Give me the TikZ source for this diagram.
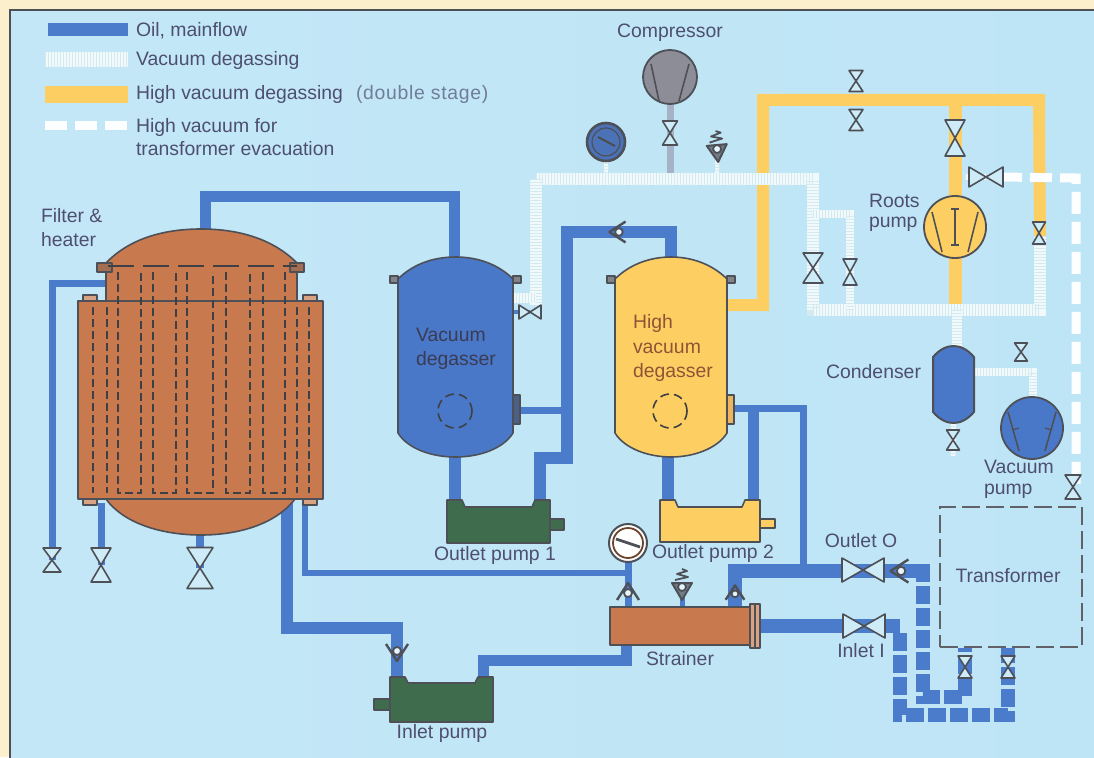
\documentclass[tikz,border=0pt]{standalone}
\usepackage{fontspec}
\setmainfont{Liberation Sans}
\definecolor{oilc}{HTML}{4B7BCB}
\definecolor{yelc}{HTML}{FDCF63}
\definecolor{vacb}{HTML}{F1F9FA}
\definecolor{vacs}{HTML}{D3EAF0}
\definecolor{bgc}{HTML}{BEE5F6}
\definecolor{creamc}{HTML}{FCEFCB}
\definecolor{linec}{HTML}{4E5058}
\definecolor{txtc}{HTML}{4E4F70}
\definecolor{filc}{HTML}{C87A4E}
\definecolor{grnc}{HTML}{3F6C4C}
\definecolor{blufill}{HTML}{4A78C8}
\definecolor{compc}{HTML}{8C8D96}
\definecolor{compp}{HTML}{A6B3C6}
\pgfdeclarelayer{back}\pgfdeclarelayer{pipes}
\pgfsetlayers{back,pipes,main}
\tikzset{
  oil/.style={draw=oilc,line width=#1},
  oildash/.style={draw=oilc,line width=#1,dash pattern=on 18pt off 4pt},
  yel/.style={draw=yelc,line width=#1},
  vacp/.style={draw=vacb,line width=#1,postaction={draw=vacs,line width=#1,dash pattern=on 1pt off 2pt}},
  hvp/.style={draw=white!95!bgc,line width=#1,dash pattern=on 22pt off 8pt},
  eq/.style={draw=linec,line width=1.6pt,line join=round},
  ghost/.style={inner sep=0pt,outer sep=0pt},
  lab/.style={text=txtc,font=\fontsize{19.4}{23}\selectfont,inner sep=0pt,outer sep=0pt,text height=15.5pt,text depth=2.5pt},
  labm/.style={text=txtc,font=\fontsize{19.4}{#1}\selectfont,inner sep=0pt,outer sep=0pt,align=left},
  dashin/.style={draw=linec!80!black,line width=1.6pt,dash pattern=on 8pt off 4pt},
  chkdot/.style={circle,draw=linec,line width=1.8pt,fill=white!60!bgc,minimum size=8pt,inner sep=0pt},
}
\newcommand\valveV[5]{\node[ghost,minimum width=#4pt,minimum height=#5pt] (#1) at (#2,#3) {};
  \draw[eq,fill=bgc!75!white] (#1.north west) -- (#1.south east) -- (#1.south west) -- (#1.north east) -- cycle;}
\newcommand\valveH[5]{\node[ghost,minimum width=#4pt,minimum height=#5pt] (#1) at (#2,#3) {};
  \draw[eq,fill=bgc!75!white] (#1.north west) -- (#1.south east) -- (#1.north east) -- (#1.south west) -- cycle;}
\newcommand\chk[5]{\begin{scope}[shift={(#2,#3)},rotate=#4,scale=#5]
  \draw[eq,line width=2.4pt] (-11,8) -- (0,-9) -- (11,8);
  \node[chkdot,minimum size=#5*8pt] (#1) at (0,1) {};
  \end{scope}}
\newcommand\springchk[4]{\begin{scope}[shift={(#2,#3)},rotate=#4]
  \draw[eq,line width=2pt,fill=linec!70!bgc] (-10,-3) -- (0,14) -- (10,-3) -- cycle;
  \draw[eq,line width=1.8pt] (-7,-6) -- (6,-9) -- (-5,-12) -- (5,-15) -- (0,-17);
  \node[chkdot,minimum size=8pt] (#1) at (0,1) {};
  \end{scope}}
\newcommand\pumpbody[7]{\node[ghost,minimum width={(#4-#2)*1pt},minimum height={(#5-#3)*1pt}] (#1) at ({(#2+#4)/2},{(#3+#5)/2}) {};
  \draw[eq,fill=#7] (#2,#3) -- ({#2+15},#3) -- ({#2+18},{#3+#6}) -- ({#4-18},{#3+#6}) -- ({#4-15},#3) -- (#4,#3) -- (#4,#5) -- (#2,#5) -- cycle;}
\newcommand\vessel[7]{\node[ghost,minimum width={(#3-#2)*1pt},minimum height=200pt] (#1) at ({(#2+#3)/2},357) {};
  \draw[eq,fill=#5] ({#2-8},276) rectangle (#2,283);
  \draw[eq,fill=#5] (#3,276) rectangle ({#3+8},283);
  \draw[eq,fill=#6] (#3,395) rectangle ({#3+7},424);
  \draw[eq,fill=#4] (#2,279) .. controls ({#2+14},265) and ({#2+34},257) .. ({(#2+#3)/2},257) .. controls ({#3-34},257) and ({#3-14},265) .. (#3,279) -- (#3,433)
    .. controls ({#3-10},449) and ({#3-34},457) .. ({(#2+#3)/2},457) .. controls ({#2+34},457) and ({#2+10},449) .. (#2,433) -- cycle;
  \draw[dashin,dash pattern=on 9pt off 5pt] (#7,411) circle (17);}
\begin{document}
\begin{tikzpicture}[x=1pt,y=-1pt]
\useasboundingbox (0,0) rectangle (1094,757);
\clip (0,0) rectangle (1094,757);
\begin{pgfonlayer}{back}
\fill[creamc] (0,0) rectangle (1094,757);
\shade[left color=bgc!92!white,middle color=bgc!85!white,right color=bgc] (10,10) rectangle (1100,765);
\draw[linec,line width=2pt] (1100,10) -- (10,10) -- (10,765);
\end{pgfonlayer}

% ---------- Filter & heater
\node[ghost,minimum width=245pt,minimum height=198pt] (filter) at (200.5,400) {};
\draw[eq,fill=filc] (106,263) .. controls (130,238) and (165,229) .. (201,229) .. controls (237,229) and (272,238) .. (297,263) -- (297,301) -- (106,301) -- cycle;
\draw[eq,fill=filc] (106,499) .. controls (125,525) and (165,535) .. (201,535) .. controls (237,535) and (275,525) .. (295,499) -- cycle;
\draw[eq,fill=filc!70!linec] (97,263) rectangle (112,272);
\draw[eq,fill=filc!70!linec] (290,263) rectangle (304,272);
\draw[eq,fill=filc!70!white] (83,295) rectangle (97,301);
\draw[eq,fill=filc!70!white] (303,295) rectangle (317,301);
\draw[eq,fill=filc!70!white] (83,499) rectangle (97,505);
\draw[eq,fill=filc!70!white] (303,499) rectangle (317,505);
\draw[eq,fill=filc] (filter.north west) rectangle (filter.south east);
\draw[dashin,dash pattern=on 26pt off 9pt] (108,266) -- (297,266);
\foreach \x in {93,107,297,309} \draw[dashin] (\x,307) -- (\x,493);
\foreach \a/\b in {118/141,153/176,187/213,226/250,263/285}
  \draw[dashin] (\a,272) -- (\a,493) -- (\b,493) -- (\b,272);
\node[labm=24pt,anchor=west] (lfilter) at (41,228) {Filter \&\\heater};
\valveV{vfa}{52}{560}{18}{24}
\valveV{vfb}{101}{565}{20}{34}
\valveV{vfc}{200}{568}{26}{41}

% ---------- Vessels
\vessel{vd}{398}{513}{blufill}{linec!70!white}{linec!60!blufill}{455}
\node[labm=24pt,text=txtc!75!black,anchor=west] (lvd) at (416,349) {Vacuum\\degasser};
\vessel{hd}{615}{727}{yelc}{linec!70!white}{yelc!70!filc}{670}
\node[labm=24.5pt,text=filc!70!black,anchor=west] (lhd) at (633,348) {High\\vacuum\\degasser};

% ---------- Pumps
\draw[eq,fill=grnc] (550,519) rectangle (564,530);
\pumpbody{op1}{447}{500}{550}{543}{7}{grnc}
\node[lab] (lop1) at (495,554) {Outlet pump 1};
\draw[eq,fill=yelc] (760,519) rectangle (775,528);
\pumpbody{op2}{660}{500}{760}{542}{7}{yelc}
\node[lab] (lop2) at (713,552) {Outlet pump 2};
\draw[eq,fill=grnc] (374,699) rectangle (390,710);
\pumpbody{ip}{390}{677}{493}{722}{6}{grnc}
\node[lab] (lip) at (442,732) {Inlet pump};

% ---------- Strainer
\node[ghost,minimum width=140pt,minimum height=38pt] (st) at (680,626) {};
\draw[eq,fill=filc] (st.north west) rectangle (st.south east);
\draw[eq,fill=filc!70!white] (750,604) rectangle (755,648);
\draw[eq,fill=filc!70!white] (755,604) rectangle (760,648);
\node[lab] (lst) at (680,659) {Strainer};

% ---------- Gauges
\node[circle,draw=linec,line width=2pt,fill=white,minimum size=38pt,inner sep=0pt] (g1) at (628,543) {};
\draw[draw=filc!55!black,line width=1.8pt] (628,543) circle (15);
\draw[linec,line width=2.8pt] (616,539) -- (640,547);
\node[circle,draw=linec,line width=2.6pt,fill=blufill!85!linec,minimum size=38pt,inner sep=0pt] (g2) at (606,142) {};
\draw[linec,line width=1.2pt] (606,142) circle (14);
\draw[black!70,line width=2pt] (598,137) -- (615,146);

% ---------- Compressor, Roots, vacuum pump
\node[circle,draw=linec,line width=1.8pt,fill=compc,minimum size=54pt,inner sep=0pt] (comp) at (670,77) {};
\draw[linec,line width=1.6pt] (651,64) -- (659,101) (689,64) -- (679,101);
\node[lab] (lcomp) at (670,31) {Compressor};
\node[circle,draw=linec,line width=1.8pt,fill=yelc,minimum size=62pt,inner sep=0pt] (roots) at (955,227) {};
\draw[linec,line width=1.6pt] (932,212) -- (942,252) (978,212) -- (968,252);
\draw[linec,line width=1.4pt] (955,209) -- (955,245) (951,209) -- (959,209) (951,245) -- (959,245);
\node[labm=20pt,anchor=west] (lroots) at (869,213) {Roots\\pump};
\node[circle,draw=linec,line width=1.8pt,fill=blufill,minimum size=62pt,inner sep=0pt] (vp) at (1032,428) {};
\draw[linec,line width=1.6pt] (1008,412) -- (1019,451) (1056,412) -- (1045,451);
\draw[linec,line width=1.2pt] (1012,430) -- (1019,428) (1052,430) -- (1045,428);
\node[labm=21pt,anchor=west] (lvp) at (984,479) {Vacuum\\pump};

% ---------- Condenser
\node[ghost,minimum width=41pt,minimum height=77pt] (cond) at (953.5,384.5) {};
\draw[eq,fill=blufill,line width=2pt] (933,357) .. controls (940,349) and (947,346) .. (953.5,346) .. controls (960,346) and (967,349) .. (974,357) -- (974,412) .. controls (967,420) and (960,423) .. (953.5,423) .. controls (947,423) and (940,420) .. (933,412) -- cycle;
\node[lab,anchor=east] (lcond) at (921,372) {Condenser};

% ---------- Transformer
\node[ghost,draw=linec!90!white,line width=2pt,dash pattern=on 18pt off 6pt,minimum width=142pt,minimum height=140pt] (tr) at (1011,577) {};
\node[lab] (ltr) at (1008,576) {Transformer};

% ---------- Valves and checks
\valveV{vca}{670}{133}{15}{24}
\valveV{vya}{856}{81}{14}{21}
\valveV{vyb}{856}{120}{14}{21}
\valveV{vr}{955}{138}{20}{36}
\valveV{vyc}{1039}{233}{13}{22}
\valveH{vh}{986}{177}{34}{20}
\valveV{vla}{813}{268}{20}{30}
\valveV{vlb}{850}{272}{14}{26}
\valveH{vde}{530}{312}{22}{14}
\valveV{vcd}{953}{440}{13}{20}
\valveV{vvp}{1021}{352}{13}{18}
\valveV{vtr}{1073}{487}{16}{24}
\valveH{vo}{863}{570}{42}{24}
\valveH{vi}{864}{626}{42}{24}
\valveV{vta}{965}{667}{14}{22}
\valveV{vtb}{1008}{667}{14}{22}
\chk{ca}{618}{232}{90}{0.95}
\chk{cb}{628}{592}{0}{1}
\chk{cc}{735}{593}{0}{0.85}
\chk{cd}{900}{571}{90}{1.05}
\chk{ce}{397}{652}{180}{1}
\springchk{sa}{682}{586}{0}
\springchk{sb}{717}{148}{5}
\node[lab] (loo) at (861,541) {Outlet O};
\node[lab] (lii) at (861,651) {Inlet I};

% ---------- Legend
\node[ghost,minimum width=80pt,minimum height=13pt] (kaa) at (88,29.5) {};
\node[ghost,minimum width=83pt,minimum height=1pt] (kbb) at (86.5,59.5) {};
\node[ghost,minimum width=83pt,minimum height=1pt] (kcc) at (86.5,94.5) {};
\node[ghost,minimum width=83pt,minimum height=1pt] (kdd) at (86.5,125.5) {};
\fill[oilc] (kaa.north west) rectangle (kaa.south east);
\node[lab,anchor=west] (lk1) at (136,30) {Oil, mainflow};
\node[lab,anchor=west] (lk2) at (136,59) {Vacuum degassing};
\node[lab,anchor=west] (lk3) at (136,93) {High vacuum degassing};
\node[lab,anchor=west,text=txtc!70!bgc] (lk3b) at (356,93) {\addfontfeatures{LetterSpace=3.6}(double stage)};
\node[labm=23pt,anchor=west] (lk4) at (136,137) {High vacuum for\\transformer evacuation};

% ---------- Pipes
\foreach \n/\x/\y in {
 a1/205/232,a2/205/196,a3/454/196,a4/454/260,
 b1/108/283,b2/52/283,
 c1/101/503,c2/200/530,
 d1/287/495,d2/287/628,d3/397/628,d4/397/680,
 e1/305/503,e2/305/573,e3/629/573,
 f1/628/607,
 h1/626/645,h2/626/660,h3/483/660,h4/483/680,
 i1/455/455,i2/455/503,
 j1/540/503,j2/540/458,j3/567/458,j4/567/232,j5/671/232,j6/671/260,
 k1/519/410,k2/567/410,
 l1/668/455,l2/668/503,
 m1/753/503,m2/753/408,m3/733/408,m4/803/408,m5/803/571,
 n1/735/607,n2/735/571,n3/923/571,n4/923/564,n5/923/697,n6/965/697,n7/965/648,
 o1/755/626,o2/900/626,o3/900/715,o4/1008/715,o5/1008/648,
 q1/727/305,q2/763/305,q3/763/100,q4/1039/100,q5/955/100,q6/955/310,
 r1/606/178,r2/813/179,r3/813/310,r4/1040/310,r5/1040/236,
 s1/536/179,s2/536/305,s3/513/298,s4/536/298,
 t1/813/214,t2/850/214,t3/850/310,
 u1/670/173,u2/717/179,u3/957/310,u4/957/348,u5/974/372,u6/1033/372,u7/1033/400,u8/953/456,
 w1/1000/177,w2/1076/178,w3/1076/487,w4/965/177}
 {\coordinate (\n) at (\x,\y);}
\begin{pgfonlayer}{pipes}
\draw[oil=11pt] (a1) -- (a2) -- (a3) -- (a4);
\draw[oil=7pt] (b1) -- (b2) -- (vfa.center);
\draw[oil=7pt] (c1) -- (vfb.center);
\draw[oil=8pt] (c2) -- (vfc.center);
\draw[oil=12pt] (d1) -- (d2) -- (d3) -- (d4);
\draw[oil=6pt] (e1) -- (e2) -- (e3);
\draw[oil=7pt] (g1.center) -- (f1);
\draw[oil=11pt] (h1) -- (h2) -- (h3) -- (h4);
\draw[oil=12pt] (i1) -- (i2);
\draw[oil=12pt] (j1) -- (j2) -- (j3) -- (j4) -- (j5) -- (j6);
\draw[oil=7pt] (k1) -- (k2);
\draw[oil=12pt] (l1) -- (l2);
\draw[oil=11pt] (m1) -- (m2);
\draw[oil=7pt] (m3) -- (m4) -- (m5);
\draw[oil=14pt] (n1) -- (n2) -- (n3);
\draw[oil=5pt] (st.north -| sa) -- (sa.center);
\draw[oildash=14pt] (n4) -- (n5) -- (n6) -- (n7);
\draw[oil=14pt] (o1) -- (o2);
\draw[oildash=14pt] ([yshift=-7pt]o2) -- (o3) -- (o4) -- (o5);
\draw[yel=12pt] (q1) -- (q2) -- (q3) -- (q4) -- (r5);
\draw[yel=13pt] (q5) -- (q6);
\draw[draw=compp,line width=7pt] (comp.center) -- (u1);
\draw[vacp=4pt] (g2.center) -- (r1);
\draw[vacp=4pt] (sb.center) -- (u2);
\draw[vacp=12pt] (s1) -- (r2) -- (r3) -- (r4) -- (r5);
\draw[vacp=8pt] (t1) -- (t2) -- (t3);
\draw[vacp=12pt] (s1) -- (s2);
\draw[vacp=10pt] (s3) -- (s4);
\draw[oil=4pt] (vd.east |- vde) -- (vde.center);
\draw[vacp=10pt] (u3) -- (u4);
\draw[vacp=8pt] (u5) -- (u6) -- (u7);
\draw[vacp=5pt] (cond.south) -- (u8);
\draw[hvp=9pt] (w1) -- (w2) -- (w3);
\draw[vacp=6pt] (w4) -- (vh.center);
\draw[yel=13pt] (vr.center) -- (roots.center);
% legend bars
\draw[vacp=15pt] (kbb.west) -- (kbb.east);
\draw[yel=17pt] (kcc.west) -- (kcc.east);
\draw[hvp=9pt] (kdd.west) -- (kdd.east);
\end{pgfonlayer}
\end{tikzpicture}
\end{document}
